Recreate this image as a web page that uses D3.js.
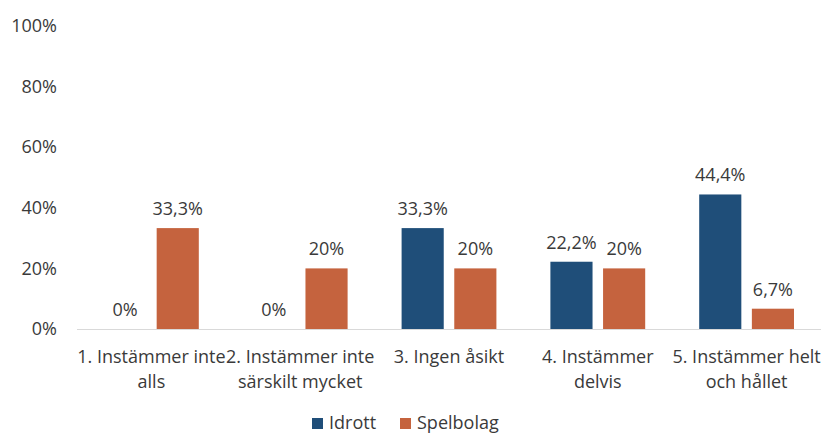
<!DOCTYPE html>
<html>
<head>
<meta charset="utf-8">
<script src="https://cdn.jsdelivr.net/npm/d3@7"></script>
<style>
  body { margin: 0; background: #fff; }
  text { font-family: "Open Sans", sans-serif; fill: #3a3a3a; }
</style>
</head>
<body>
<div id="container"></div>
<script>
/* DATA */
const categories = [
  ["1. Instämmer inte", "alls"],
  ["2. Instämmer inte", "särskilt mycket"],
  ["3. Ingen åsikt"],
  ["4. Instämmer", "delvis"],
  ["5. Instämmer helt", "och hållet"]
]
const seriesNames = ["Idrott", "Spelbolag"]
const idrott = [0, 0, 33.3, 22.2, 44.4]
const spelbolag = [33.3, 20, 20, 20, 6.7]
const yTicks = [0, 20, 40, 60, 80, 100]
const colors = ["#1F4E79", "#C5633E"]

/* CONSTANTS */
const width = 823, height = 433
const margin = {top: 26, right: 2, bottom: 104, left: 77}
const fontSize = 18

const svg = d3.select("#container")
  .append("svg")
  .attr("width", width)
  .attr("height", height)

const rows = categories.map((c, i) => ({
  idx: i,
  label: c,
  values: [idrott[i], spelbolag[i]]
}))

// scales
const xScale = d3.scaleBand()
  .domain(d3.range(categories.length))
  .range([margin.left, width - margin.right])

const inner = d3.scaleBand()
  .domain([0, 1])
  .range([27, xScale.bandwidth() - 27])
  .paddingInner(0.2)

const yScale = d3.scaleLinear()
  .domain([0, 100])
  .range([height - margin.bottom, margin.top])

const fmt = v => String(v).replace(".", ",") + "%"

// y axis labels
const yAxis = d3.axisLeft(yScale)
  .tickValues(yTicks)
  .tickFormat(d => d + "%")
  .tickSize(0)
  .tickPadding(20)

svg.append("g")
  .attr("transform", `translate(${margin.left},0)`)
  .call(yAxis)
  .call(g => g.select(".domain").remove())
  .call(g => g.selectAll("text")
    .attr("font-size", fontSize)
    .attr("font-family", "Open Sans, sans-serif")
    .attr("fill", "#3a3a3a"))

// bars
const groups = svg.selectAll("g.cat")
  .data(rows)
  .join("g")
  .attr("class", "cat")
  .attr("transform", d => `translate(${xScale(d.idx)},0)`)

groups.selectAll("rect")
  .data(d => d.values.map((v, s) => ({v, s})))
  .join("rect")
  .attr("x", d => inner(d.s))
  .attr("width", inner.bandwidth())
  .attr("y", d => yScale(d.v))
  .attr("height", d => yScale(0) - yScale(d.v))
  .attr("fill", d => colors[d.s])

groups.selectAll("text.val")
  .data(d => d.values.map((v, s) => ({v, s})))
  .join("text")
  .attr("class", "val")
  .attr("x", d => inner(d.s) + inner.bandwidth() / 2)
  .attr("y", d => yScale(d.v) - 13)
  .attr("text-anchor", "middle")
  .attr("font-size", fontSize)
  .text(d => fmt(d.v))

// baseline
svg.append("line")
  .attr("x1", margin.left)
  .attr("x2", width - margin.right)
  .attr("y1", yScale(0) + 0.5)
  .attr("y2", yScale(0) + 0.5)
  .attr("stroke", "#D9D9D9")
  .attr("stroke-width", 1)

// x labels
const xl = svg.selectAll("text.xlab")
  .data(rows)
  .join("text")
  .attr("class", "xlab")
  .attr("text-anchor", "middle")
  .attr("font-size", fontSize)
  .attr("x", d => xScale(d.idx) + xScale.bandwidth() / 2)
  .attr("y", yScale(0) + 34)

xl.selectAll("tspan")
  .data(d => d.label)
  .join("tspan")
  .attr("x", function() { return d3.select(this.parentNode).attr("x") })
  .attr("dy", (d, i) => i === 0 ? 0 : 25)
  .text(d => d)

// legend
const legendX = [312, 400]
const legend = svg.selectAll("g.legend")
  .data(seriesNames)
  .join("g")
  .attr("class", "legend")
  .attr("transform", (d, i) => `translate(${legendX[i]},429)`)

legend.append("rect")
  .attr("x", 0)
  .attr("y", -11)
  .attr("width", 11)
  .attr("height", 11)
  .attr("fill", (d, i) => colors[i])

legend.append("text")
  .attr("x", 17)
  .attr("y", 0)
  .attr("font-size", fontSize)
  .text(d => d)
</script>
</body>
</html>
